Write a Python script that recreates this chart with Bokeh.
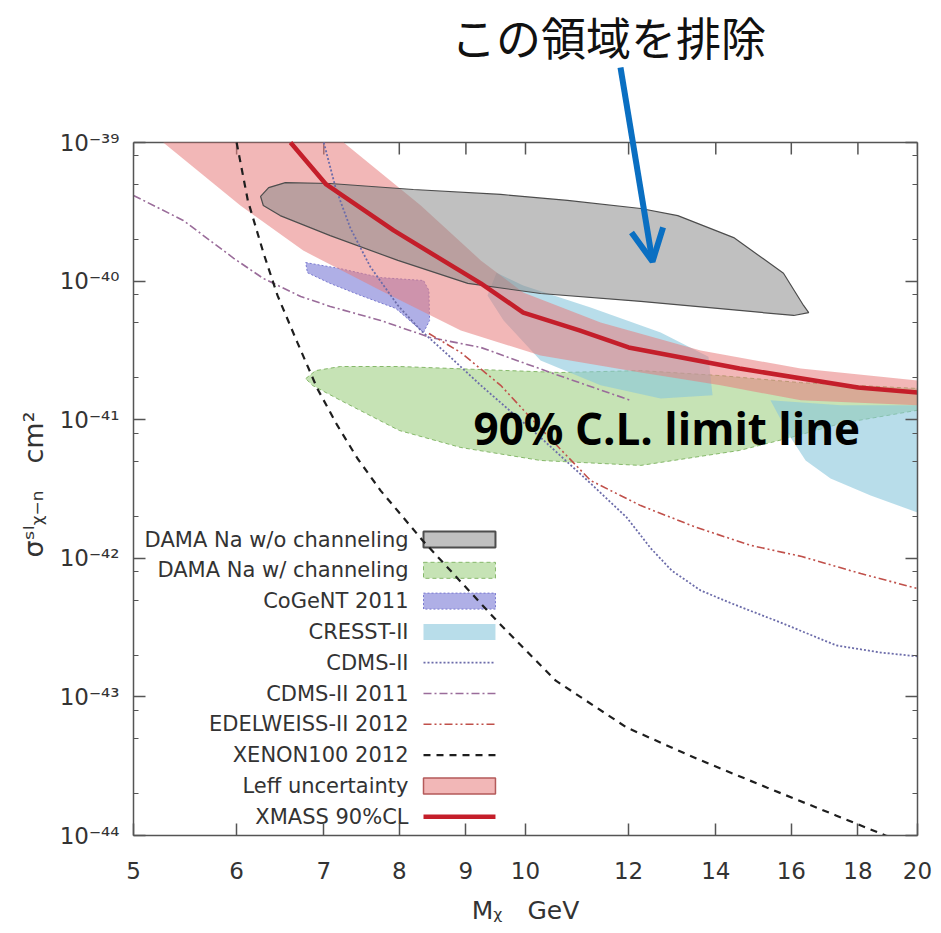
from bokeh.plotting import figure
from bokeh.models import (Range1d, FixedTicker, CustomJSTickFormatter, LogAxis,
                          Label, Arrow, OpenHead, Title)
from bokeh.core.properties import value
from bokeh.embed import file_html
from bokeh.resources import INLINE

# WIMP mass M_chi in GeV, spin-independent WIMP-nucleon cross section in cm^2

# XMASS 90% CL upper limit
xmass_mass = [6.60, 7.03, 7.92, 9.24, 9.96, 11.0, 12.0, 14.6, 18.0, 20.0]
xmass_sigma = [1.0e-39, 4.98e-40, 2.32e-40, 9.62e-41, 5.93e-41, 4.41e-41,
               3.32e-41, 2.34e-41, 1.71e-41, 1.57e-41]

# Leff uncertainty band: upper edge (left to right), lower edge (right to left)
leff_hi_mass = [7.25, 8.31, 9.24, 9.96, 11.42, 13.63, 16.27, 20.0]
leff_hi_sigma = [1.0e-39, 3.51e-40, 1.41e-40, 8.28e-41, 5.03e-41, 3.16e-41,
                 2.34e-41, 1.92e-41]
leff_lo_mass = [20.0, 16.27, 14.12, 12.26, 10.27, 8.92, 7.74, 6.75, 6.04, 5.27]
leff_lo_sigma = [1.27e-41, 1.38e-41, 1.77e-41, 2.19e-41, 2.90e-41, 4.41e-41,
                 8.55e-41, 1.66e-40, 3.51e-40, 1.0e-39]

# DAMA/LIBRA Na region without channeling
dama_mass = [6.26, 6.35, 6.54, 7.08, 8.20, 9.57, 10.77, 12.26, 13.09, 14.45, 15.78,
             16.35, 16.50, 16.07, 14.6, 12.26, 10.27, 9.03, 7.98, 7.08, 6.48, 6.29]
dama_sigma = [4.08e-40, 4.73e-40, 5.14e-40, 5.06e-40, 4.58e-40, 4.22e-40, 3.82e-40,
              3.34e-40, 2.97e-40, 2.06e-40, 1.14e-40, 6.67e-41, 5.93e-41, 5.65e-41,
              6.14e-41, 7.13e-41, 8.14e-41, 9.62e-41, 1.41e-40, 2.13e-40, 2.97e-40,
              3.51e-40]

# DAMA/LIBRA Na region with channeling
damach_mass = [6.78, 6.90, 7.21, 8.0, 9.24, 10.64, 12.26, 14.12, 16.27, 20.0, 20.0,
               17.46, 15.98, 14.6, 12.26, 10.27, 8.92, 8.0, 7.21, 6.86]
damach_sigma = [1.98e-41, 2.26e-41, 2.42e-41, 2.42e-41, 2.30e-41, 2.19e-41, 2.26e-41,
                2.08e-41, 1.85e-41, 1.68e-41, 1.17e-41, 9.39e-42, 7.44e-42, 6.00e-42,
                4.68e-42, 5.08e-42, 6.30e-42, 8.36e-42, 1.38e-41, 1.77e-41]

# CoGeNT 2011 region
cogent_mass = [6.78, 7.21, 7.74, 8.35, 8.43, 8.44, 8.35, 7.95, 7.47, 7.08, 6.80]
cogent_sigma = [1.36e-40, 1.23e-40, 1.06e-40, 1.01e-40, 8.55e-41, 5.20e-41, 4.26e-41,
                6.35e-41, 7.88e-41, 9.62e-41, 1.15e-40]

# CRESST-II regions (M1 and M2)
cresst1_mass = [9.50, 9.96, 11.22, 12.70, 13.82, 13.92, 12.70, 11.42, 10.27, 9.62, 9.35]
cresst1_sigma = [1.15e-40, 9.30e-41, 6.45e-41, 4.26e-41, 2.84e-41, 1.50e-41, 1.42e-41,
                 1.77e-41, 2.67e-41, 5.20e-41, 7.88e-41]
cresst2_mass = [15.42, 17.46, 20.0, 20.0, 18.41, 17.15, 16.41, 15.98]
cresst2_sigma = [1.38e-41, 1.27e-41, 1.27e-41, 2.14e-42, 2.84e-42, 3.77e-42,
                 5.08e-42, 7.44e-42]

# CDMS-II limit
cdms_mass = [7.0, 7.15, 7.34, 7.60, 7.98, 8.31, 8.68, 9.24, 10.27, 11.22, 11.96,
             12.48, 12.95, 13.63, 14.40, 15.70, 17.33, 18.74, 20.0]
cdms_sigma = [1.0e-39, 4.66e-40, 2.39e-40, 1.27e-40, 6.67e-41, 4.41e-41, 3.05e-41,
              1.77e-41, 7.44e-42, 3.47e-42, 1.97e-42, 1.18e-42, 8.16e-43, 5.86e-43,
              4.72e-43, 3.44e-43, 2.35e-43, 2.09e-43, 1.96e-43]

# CDMS-II 2011 low-threshold limit
cdms11_mass = [5.0, 5.46, 5.97, 6.29, 6.72, 7.08, 7.74, 8.45, 9.24, 10.45, 12.04]
cdms11_sigma = [4.15e-40, 2.74e-40, 1.46e-40, 1.045e-40, 7.75e-41, 6.56e-41,
                5.20e-41, 3.92e-41, 3.32e-41, 2.19e-41, 1.38e-41]

# EDELWEISS-II 2012 limit
edw_mass = [8.43, 8.92, 9.57, 10.27, 11.22, 12.26, 13.53, 14.89, 16.30, 18.09, 20.0]
edw_sigma = [4.19e-41, 3.05e-41, 1.77e-41, 8.64e-42, 3.64e-42, 2.40e-42, 1.67e-42,
             1.24e-42, 1.03e-42, 7.76e-43, 6.05e-43]

# XENON100 2012 limit
xe_mass = [6.0, 6.12, 6.29, 6.45, 6.68, 6.92, 7.17, 7.43, 7.74, 8.34, 9.50, 10.55,
           11.96, 13.53, 15.32, 17.33, 18.90, 20.0]
xe_sigma = [1.0e-39, 3.82e-40, 1.61e-40, 7.88e-41, 3.61e-41, 1.68e-41, 9.09e-42,
            5.25e-42, 3.08e-42, 1.34e-42, 3.56e-43, 1.31e-43, 6.01e-44, 3.59e-44,
            2.22e-44, 1.39e-44, 1.0e-44, 8.47e-45]

# axis ticks
x_ticks = [5, 6, 7, 8, 9, 10, 12, 14, 16, 18, 20]
y_major = [10.0 ** e for e in range(-44, -38)]
y_minor = [k * 10.0 ** e for e in range(-44, -39) for k in (2, 5, 8)]

legend_labels = ["DAMA Na w/o channeling", "DAMA Na w/ channeling", "CoGeNT 2011",
                 "CRESST-II", "CDMS-II", "CDMS-II 2011", "EDELWEISS-II 2012",
                 "XENON100 2012", "Leff uncertainty", "XMASS 90%CL"]

X_MIN, X_MAX = 5.0, 20.0
Y_MIN, Y_MAX = 1e-44, 1e-39
BOX_H = 693          # pixel height of the axis box (1e-44 .. 1e-39)
HEAD_ROOM = 142      # white space kept above the axis box for the annotation


def fx(f):
    """Mass at fraction f of the axis-box width (log axis)."""
    return X_MIN * (X_MAX / X_MIN) ** f


def fy(f):
    """Cross section at fraction f of the axis-box height (log axis)."""
    return Y_MIN * (Y_MAX / Y_MIN) ** f


# the frame reaches up to the top of the page so the annotation arrow is not clipped
y_top = fy(1 + HEAD_ROOM / BOX_H)

p = figure(width=941, height=933, x_axis_type="log", y_axis_type="log",
           x_range=Range1d(X_MIN, X_MAX), y_range=Range1d(Y_MIN, y_top),
           output_backend="svg", toolbar_location=None, title_location=None,
           min_border_left=133, min_border_right=24,
           min_border_top=0, min_border_bottom=98)
p.grid.visible = False
p.background_fill_color = "white"
p.border_fill_color = "white"
p.outline_line_color = None

AX = "#555555"
SP = "\u2002"  # en space (plain spaces collapse in SVG text)
sup_code = """
const sup = {"-": "\u207b", "0": "\u2070", "1": "\u00b9", "2": "\u00b2", "3": "\u00b3",
             "4": "\u2074", "5": "\u2075", "6": "\u2076", "7": "\u2077", "8": "\u2078",
             "9": "\u2079"};
const e = Math.round(Math.log10(tick));
return "10" + String(e).split("").map((c) => sup[c]).join("");
"""


def style_axis(ax):
    ax.axis_line_color = AX
    ax.axis_line_width = 1.5
    ax.major_tick_line_color = AX
    ax.minor_tick_line_color = AX
    ax.major_tick_line_width = 1.5
    ax.minor_tick_line_width = 1.2
    ax.major_tick_in = 12
    ax.major_tick_out = 0
    ax.minor_tick_in = 5
    ax.minor_tick_out = 0
    ax.major_label_text_color = "#333333"
    ax.major_label_text_font = "DejaVu Sans"
    ax.major_label_text_font_size = "23px"
    ax.axis_label_text_font = "DejaVu Sans"
    ax.axis_label_text_font_style = "normal"
    ax.axis_label_text_font_size = "25px"
    ax.axis_label_text_color = "#333333"


xa = p.xaxis[0]
xa.ticker = FixedTicker(ticks=x_ticks, minor_ticks=[])
xa.formatter = CustomJSTickFormatter(code="return String(Math.round(tick));")
xa.axis_label = "M\u1d6a" + SP * 2 + "GeV"
style_axis(xa)
xa.major_label_standoff = 26
xa.axis_label_standoff = 14

ya = p.yaxis[0]
ya.ticker = FixedTicker(ticks=y_major, minor_ticks=y_minor)
ya.formatter = CustomJSTickFormatter(code=sup_code)
ya.bounds = (Y_MIN, Y_MAX)
style_axis(ya)
ya.major_label_standoff = 14

right = LogAxis(ticker=FixedTicker(ticks=y_major, minor_ticks=y_minor),
                formatter=CustomJSTickFormatter(code="return '';"),
                bounds=(Y_MIN, Y_MAX))
style_axis(right)
p.add_layout(right, "right")

p.add_layout(Title(text="\u03c3\u02e2\u1d35\u1d6a\u208b\u2099" + SP * 2 + "cm\u00b2",
                   align="left", offset=835 - 557, text_font="DejaVu Sans",
                   text_font_size="27px", text_font_style="normal",
                   text_color="#333333", standoff=16), "left")

# top edge of the axis box with inward ticks
p.line([X_MIN, X_MAX], [Y_MAX, Y_MAX], line_color=AX, line_width=1.5)
p.segment(x0=x_ticks, y0=[Y_MAX] * len(x_ticks), x1=x_ticks,
          y1=[fy(1 - 12 / BOX_H)] * len(x_ticks), line_color=AX, line_width=1.5)

# ---- allowed / excluded regions ----
GREEN = dict(fill_color="#98cc78", fill_alpha=0.55, line_color="#86b86a",
             line_dash="4 3", line_width=1)
CYAN = dict(fill_color="#88c6dc", fill_alpha=0.6, line_color=None)
BLUE = dict(fill_color="#6e6ed2", fill_alpha=0.55, line_color="#7a7ad0",
            line_dash="2 2", line_width=1)
PINK = dict(fill_color="#e87c7c", fill_alpha=0.55, line_color=None)
GRAY = dict(fill_color="#8c8c8c", fill_alpha=0.55, line_color="#4d4d4d", line_width=1.2)

p.patch(damach_mass, damach_sigma, **GREEN)
p.patch(cresst1_mass, cresst1_sigma, **CYAN)
p.patch(cresst2_mass, cresst2_sigma, **CYAN)
p.patch(cogent_mass, cogent_sigma, **BLUE)
p.patch(leff_hi_mass + leff_lo_mass, leff_hi_sigma + leff_lo_sigma, **PINK)
p.patch(dama_mass, dama_sigma, **GRAY)

# ---- legend (right-aligned labels, keys on the right) ----
row_f0, row_step, half_h = 0.4271, 0.04444, 0.01154
lab_f, key_l, key_r = 0.3508, 0.3699, 0.4617
row_y = [row_f0 - i * row_step for i in range(len(legend_labels))]

p.text(x=[fx(lab_f)] * len(legend_labels), y=[fy(f) for f in row_y],
       text=legend_labels, text_align="right", text_baseline="middle",
       text_font=value("DejaVu Sans"), text_font_size="21px", text_color="#333333")

box_styles = {0: dict(GRAY, line_width=2), 1: GREEN, 2: BLUE, 3: CYAN,
              8: dict(PINK, line_color="#b45a5a", line_width=1.5)}
for i, st in box_styles.items():
    p.quad(left=[fx(key_l)], right=[fx(key_r)], top=[fy(row_y[i] + half_h)],
           bottom=[fy(row_y[i] - half_h)], **st)

LINES = {
    4: dict(line_color="#6c6caa", line_width=1.8, line_dash="2 2"),
    5: dict(line_color="#9a6c9a", line_width=1.6, line_dash="8 3 2 3"),
    6: dict(line_color="#c0504a", line_width=1.6, line_dash="8 3 2 3 2 3"),
    7: dict(line_color="#1e1e1e", line_width=2.2, line_dash="7 6"),
    9: dict(line_color="#c41e2a", line_width=4.5),
}
for i, st in LINES.items():
    p.line([fx(key_l), fx(key_r)], [fy(row_y[i])] * 2, **st)

# ---- exclusion limits ----
p.line(cdms_mass, cdms_sigma, **LINES[4])
p.line(cdms11_mass, cdms11_sigma, **LINES[5])
p.line(edw_mass, edw_sigma, **LINES[6])
p.line(xe_mass, xe_sigma, **LINES[7])
p.line(xmass_mass, xmass_sigma, **LINES[9])

# ---- annotations ----
p.add_layout(Label(x=fx(0.4337), y=fy((835 - 427) / BOX_H), text="90% C.L. limit line",
                   text_font="Open Sans", text_font_style="bold", text_font_size="44px",
                   text_color="#000000", text_align="left", text_baseline="alphabetic"))
p.add_layout(Label(x=fx((608 - 133) / 784), y=fy((835 - 36) / BOX_H), text="この領域を排除",
                   text_font="Noto Sans CJK JP", text_font_size="45px",
                   text_color="#111111", text_align="center", text_baseline="middle"))
p.add_layout(Arrow(x_start=fx((620 - 133) / 784), y_start=fy((835 - 67) / BOX_H),
                   x_end=fx((652 - 133) / 784), y_end=fy((835 - 261) / BOX_H),
                   line_color="#0a6fc2", line_width=6,
                   end=OpenHead(size=32, line_color="#0a6fc2", line_width=6)))

with open("out.html", "w", encoding="utf-8") as fh:
    fh.write(file_html(p, INLINE))
